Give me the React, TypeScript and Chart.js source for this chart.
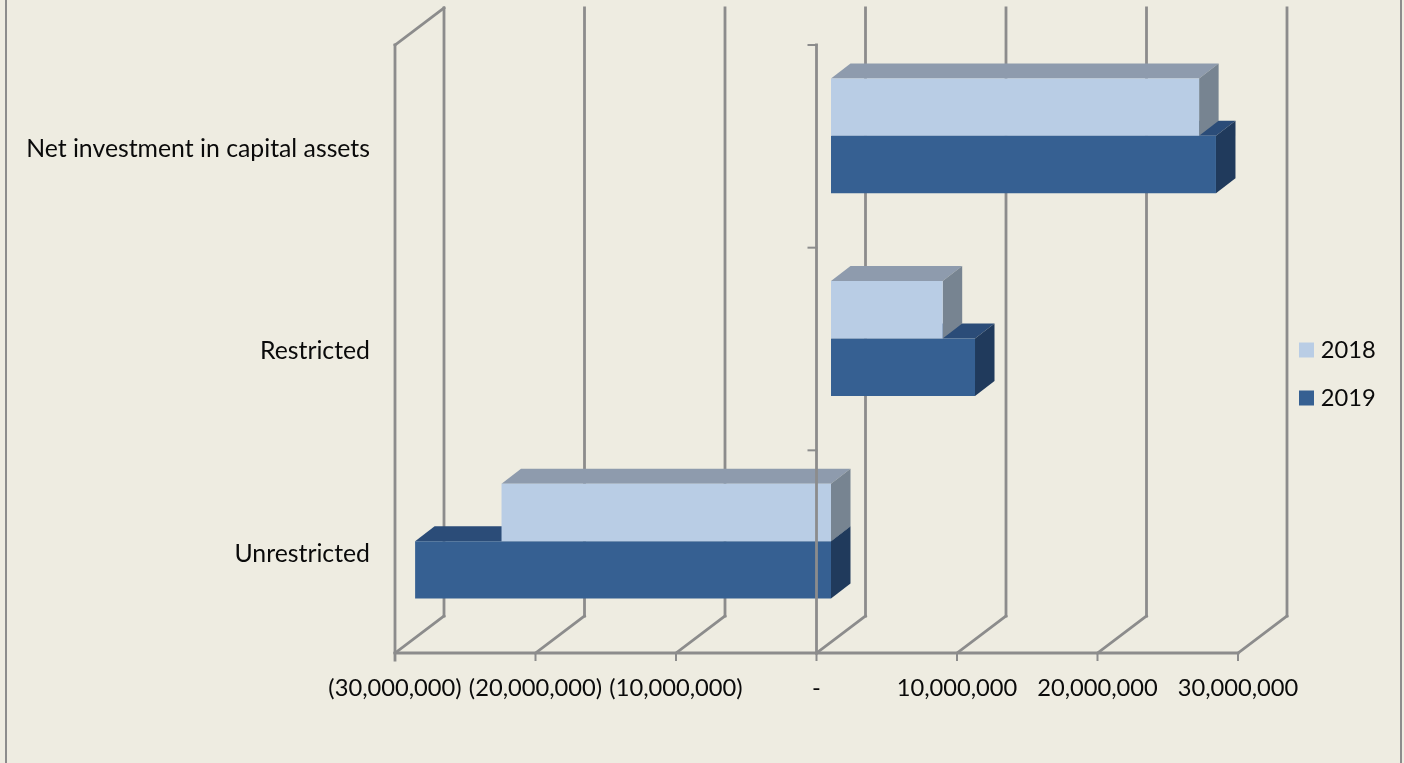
import React, { useEffect, useRef } from "react";
import { Chart, registerables } from "chart.js";

Chart.register(...registerables);

const categories = ["Net investment in capital assets", "Restricted", "Unrestricted"];
const values2018 = [26200000, 7950000, -23450000];
const values2019 = [27400000, 10250000, -29600000];
const seriesNames = ["2018", "2019"];
const xTickLabels = ["(30,000,000)", "(20,000,000)", "(10,000,000)", "-", "10,000,000", "20,000,000", "30,000,000"];

const FAMILY = "Lato, Carlito, sans-serif";
const FONT = { family: FAMILY, size: 23.7 };
const CAT_FONT = { family: FAMILY, size: 24.8 };
const INK = "#0A0A0A";
const GRID = "#8C8C8C";
const FACES: Record<number, { top: string; side: string }> = {
  0: { top: "#8E9BAD", side: "#778491" },
  1: { top: "#2B4C78", side: "#203A5C" },
};
const WALL = { dx: 49, dy: -37 };
const BAR_SHIFT = { dx: 14.5, dy: -10.5 };
const BAR_DEPTH = { dx: 19.5, dy: -15 };

function poly(ctx: CanvasRenderingContext2D, pts: number[][], fill: string) {
  ctx.beginPath();
  pts.forEach((p, i) => (i ? ctx.lineTo(p[0], p[1]) : ctx.moveTo(p[0], p[1])));
  ctx.closePath();
  ctx.fillStyle = fill;
  ctx.fill();
}

function seg(ctx: CanvasRenderingContext2D, x1: number, y1: number, x2: number, y2: number, w = 2.8) {
  ctx.beginPath();
  ctx.moveTo(x1, y1);
  ctx.lineTo(x2, y2);
  ctx.lineWidth = w;
  ctx.strokeStyle = GRID;
  ctx.lineCap = "square";
  ctx.stroke();
}

const threeD = {
  id: "threeD",
  beforeDraw(chart: any) {
    const { ctx, width, height } = chart;
    ctx.save();
    ctx.fillStyle = "#EEECE1";
    ctx.fillRect(0, 0, width, height);
    ctx.fillStyle = GRID;
    ctx.fillRect(5, 0, 2, height);
    ctx.fillRect(1400, 0, 2, height);
    ctx.restore();
  },
  afterLayout(chart: any) {
    const lg = chart.legend;
    const pad = lg.options.labels.padding;
    lg.left = 1304 - pad;
    lg.right = 1404;
    lg.top = 313.75;
    lg.bottom = 460;
  },
  beforeDatasetsDraw(chart: any) {
    const { ctx, chartArea: a, scales } = chart;
    const xs = scales.x;
    ctx.save();
    seg(ctx, a.left, a.top, a.left, a.bottom + 7);
    seg(ctx, a.left, a.top, a.left + WALL.dx, a.top + WALL.dy);
    xs.ticks.forEach((t: any) => {
      const px = xs.getPixelForValue(t.value);
      seg(ctx, px + WALL.dx, a.top + WALL.dy, px + WALL.dx, a.bottom + WALL.dy);
      seg(ctx, px, a.bottom, px + WALL.dx, a.bottom + WALL.dy);
      seg(ctx, px, a.bottom, px, a.bottom + 7, 2);
    });
    seg(ctx, a.left, a.bottom, a.right, a.bottom);
    ctx.restore();
  },
  beforeDatasetDraw(chart: any, args: any) {
    const { ctx } = chart;
    const faces = FACES[args.index];
    ctx.save();
    ctx.translate(BAR_SHIFT.dx, BAR_SHIFT.dy);
    args.meta.data.forEach((el: any) => {
      const { x, y, base, height } = el.getProps(["x", "y", "base", "height"], true);
      const l = Math.min(x, base);
      const r = Math.max(x, base);
      const t = y - height / 2;
      const b = y + height / 2;
      const d = BAR_DEPTH;
      poly(ctx, [[l, t], [l + d.dx, t + d.dy], [r + d.dx, t + d.dy], [r, t]], faces.top);
      poly(ctx, [[r, t], [r + d.dx, t + d.dy], [r + d.dx, b + d.dy], [r, b]], faces.side);
    });
  },
  afterDatasetDraw(chart: any) {
    chart.ctx.restore();
  },
  afterDatasetsDraw(chart: any) {
    const { ctx, chartArea: a, scales } = chart;
    const zero = scales.x.getPixelForValue(0);
    ctx.save();
    seg(ctx, zero, a.top, zero, a.bottom);
    const band = (a.bottom - a.top) / categories.length;
    for (let i = 0; i <= categories.length; i++) {
      seg(ctx, zero - 8, a.top + band * i, zero, a.top + band * i, 2);
    }
    ctx.restore();
  },
};

export default function App() {
  const ref = useRef<HTMLCanvasElement>(null);
  useEffect(() => {
    document.body.style.margin = "0";
    document.body.style.background = "#EEECE1";
    const chart = new Chart(ref.current!, {
      type: "bar",
      data: {
        labels: categories,
        datasets: [
          { label: seriesNames[0], data: values2018, backgroundColor: "#B9CDE5", clip: false as any },
          { label: seriesNames[1], data: values2019, backgroundColor: "#366092", clip: false as any },
        ],
      },
      options: {
        indexAxis: "y",
        responsive: false,
        animation: false,
        devicePixelRatio: 1,
        categoryPercentage: 0.567,
        barPercentage: 1,
        layout: { padding: { left: 0, top: 45, right: 106, bottom: 0 } },
        plugins: {
          tooltip: { enabled: false },
          legend: {
            position: "right",
            align: "start",
            maxWidth: 60,
            labels: {
              font: FONT,
              color: INK,
              boxWidth: 5,
              boxHeight: 5,
              padding: 24.3,
              generateLabels: (c: any) =>
                c.data.datasets.map((ds: any, i: number) => ({
                  text: ds.label,
                  fillStyle: ds.backgroundColor,
                  strokeStyle: ds.backgroundColor,
                  lineWidth: 10,
                  fontColor: INK,
                  hidden: false,
                  datasetIndex: i,
                })),
            },
          },
        },
        scales: {
          x: {
            type: "linear",
            min: -30000000,
            max: 30000000,
            grid: { display: false, drawTicks: false },
            border: { display: false },
            afterFit: (s: any) => {
              s.height = 110;
            },
            ticks: {
              stepSize: 10000000,
              autoSkip: false,
              maxRotation: 0,
              padding: 21,
              font: FONT,
              color: INK,
              callback: (_v: any, i: number) => xTickLabels[i],
            },
          },
          y: {
            type: "category",
            grid: { display: false, drawTicks: false },
            border: { display: false },
            afterFit: (s: any) => {
              s.width = 395;
            },
            ticks: { padding: 25, labelOffset: 2.3, font: CAT_FONT, color: INK, autoSkip: false },
          },
        },
      } as any,
      plugins: [threeD],
    });
    return () => chart.destroy();
  }, []);
  return <canvas ref={ref} width={1404} height={763} style={{ display: "block" }} />;
}
